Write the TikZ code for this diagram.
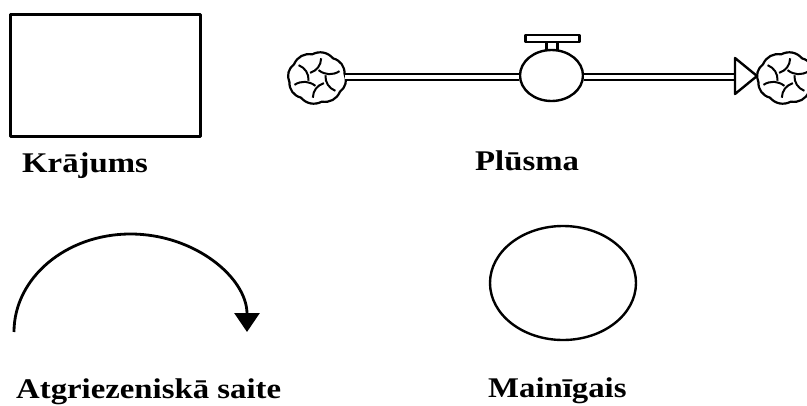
\documentclass[tikz,border=0pt]{standalone}
\usepackage{fontspec}
\usetikzlibrary{arrows.meta, shapes.geometric}
\newfontfamily\lblfont{Liberation Serif}[FakeStretch=1.15]
\tikzset{
  ink/.style={line width=2.4pt, line join=round},
  label/.style={anchor=base west, inner sep=0pt,
    font=\lblfont\bfseries\fontsize{28.5}{30}\selectfont},
  pipe/.style={line width=2.1pt, double distance=4.2pt},
  pics/cloud/.style={code={
    \draw[ink, line width=2.2pt, fill=white]
      (10:28pt and 24pt)
      \foreach \a in {55,100,...,370} { to[bend right=38] (\a:28pt and 24pt) } -- cycle;
    \foreach \a in {20,80,...,320}
      \draw[ink, line width=2pt] (\a:24pt and 20pt) to[bend left=35] (\a+60:9pt and 8pt);
  }}
}
\begin{document}
\begin{tikzpicture}[x=1pt, y=-1pt]
  \useasboundingbox (0,0) rectangle (807,405);
  \begin{scope}
  \clip (0,0) rectangle (807,405);

  % stock
  \node[draw, ink, minimum width=190pt, minimum height=122pt, inner sep=0pt] (stock) at (105.5,75.5) {};
  \node[label] (stocklbl) at (22,172) {Krājums};

  % flow: source cloud, valve, sink cloud
  \pic (srccloud) at (317,78) {cloud};
  \coordinate (src) at (345,77);
  \node[draw, ink, ellipse, minimum width=63pt, minimum height=51pt, inner sep=0pt, fill=white] (valve) at (551.5,75.5) {};
  \node[draw, ink, minimum width=11pt, minimum height=9pt, inner sep=0pt] (stem) at (552,45.5) {};
  \node[draw, ink, fill=white, minimum width=54pt, minimum height=7pt, inner sep=0pt] (handle) at (552.5,38.5) {};
  \pic (sinkcloud) at (786,78) {cloud};
  \coordinate (tipbase) at (735,77);
  \coordinate (tip) at (757,76);
  \draw[pipe] (src) -- (valve.west |- src);
  \draw[pipe] (valve.east |- src) -- (tipbase);
  \draw[ink, fill=white] (735,58) -- (tip) -- (735,94) -- cycle;
  \node[label] (flowlbl) at (475,170) {Plūsma};

  % feedback link
  \coordinate (fbstart) at (14,332);
  \draw[line width=2.8pt, -{Triangle[width=25pt, length=19pt]}]
    (fbstart) arc[start angle=180, end angle=0, x radius=116.5pt, y radius=98pt];
  \node[label] (fblbl) at (16,398) {Atgriezeniskā saite};

  % auxiliary variable
  \node[draw, ink, ellipse, minimum width=146pt, minimum height=114pt, inner sep=0pt] (aux) at (563,283) {};
  \node[label] (auxlbl) at (488,397) {Mainīgais};
  \end{scope}
\end{tikzpicture}
\end{document}
